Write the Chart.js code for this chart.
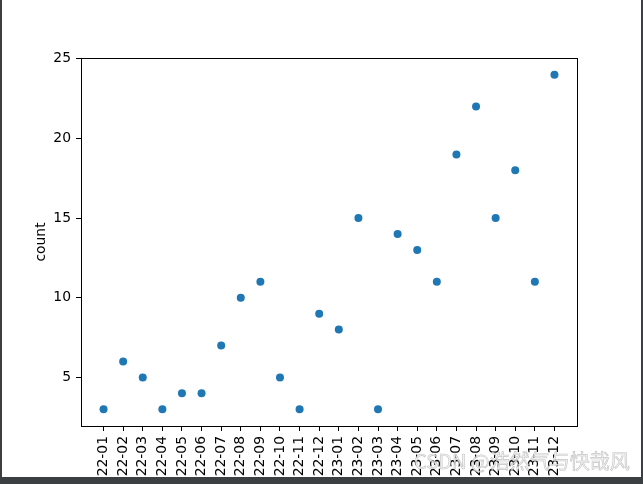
<!DOCTYPE html>
<html>
<head>
<meta charset="utf-8">
<script src="https://cdn.jsdelivr.net/npm/chart.js@4.4.0/dist/chart.umd.min.js"></script>
<style>
  html, body { margin: 0; padding: 0; background: #fff; }
  #wrap { position: relative; width: 643px; height: 484px; overflow: hidden; }
  #grafico { position: absolute; left: 0; top: 0; }
  .borda { position: absolute; background: #3c3f41; }
  #marca {
    position: absolute; left: 414px; top: 446px;
    font-family: "Noto Sans CJK SC", "DejaVu Sans", sans-serif;
    font-size: 20px; white-space: nowrap;
    color: rgba(240, 240, 240, 0.8);
    -webkit-text-stroke: 0.6px rgba(150, 150, 150, 0.55);
  }
</style>
</head>
<body>
<div id="wrap">
  <canvas id="grafico" width="643" height="484"></canvas>
  <div id="marca">CSDN @浩然气与快哉风</div>
  <div class="borda" style="left:0;top:0;width:2px;height:484px"></div>
  <div class="borda" style="left:641px;top:0;width:2px;height:484px"></div>
  <div class="borda" style="left:0;top:477px;width:643px;height:7px"></div>
</div>
<script>
// DADOS
var meses = ['2022-01', '2022-02', '2022-03', '2022-04', '2022-05', '2022-06',
    '2022-07', '2022-08', '2022-09', '2022-10', '2022-11', '2022-12',
    '2023-01', '2023-02', '2023-03', '2023-04', '2023-05', '2023-06',
    '2023-07', '2023-08', '2023-09', '2023-10', '2023-11', '2023-12'];
var contagem = [3, 6, 5, 3, 4, 4, 7, 10, 11, 5, 3, 9, 8, 15, 3, 14, 13, 11, 19, 22, 15, 18, 11, 24];
var ticksY = [5, 10, 15, 20, 25];

var fonteEixo = { family: '"DejaVu Sans", sans-serif', size: 13.9 };

// moldura completa em volta da area do grafico (estilo matplotlib)
var moldura = {
    id: 'moldura',
    afterDraw: function(chart) {
        var a = chart.chartArea;
        var ctx = chart.ctx;
        ctx.save();
        ctx.strokeStyle = '#000';
        ctx.lineWidth = 1;
        ctx.strokeRect(Math.round(a.left) + 0.5, Math.round(a.top) + 0.5,
            Math.round(a.right - a.left), Math.round(a.bottom - a.top));
        ctx.restore();
    }
};

var ctx = document.getElementById('grafico').getContext('2d');

var grafico = new Chart(ctx, {
    type: 'scatter',
    data: {
        datasets: [{
            label: 'count',
            data: contagem.map(function(v, i) { return { x: i, y: v }; }),
            backgroundColor: '#1f77b4',
            borderWidth: 0,
            pointRadius: 4,
            pointHoverRadius: 4
        }]
    },
    options: {
        responsive: false,
        animation: false,
        layout: { padding: { top: 58, right: 66, left: 0, bottom: 0 } },
        scales: {
            x: {
                type: 'linear',
                min: -1.15,
                max: 24.15,
                afterBuildTicks: function(scale) {
                    scale.ticks = meses.map(function(_, i) { return { value: i }; });
                },
                afterFit: function(scale) { scale.height = 58; },
                border: { display: false },
                grid: { display: true, drawOnChartArea: false, drawTicks: true, tickLength: 5, tickColor: '#000' },
                ticks: {
                    autoSkip: false,
                    maxRotation: 90,
                    minRotation: 90,
                    padding: 5,
                    color: '#000',
                    font: fonteEixo,
                    callback: function(v) { return meses[v]; }
                }
            },
            y: {
                min: 1.95,
                max: 25.05,
                afterBuildTicks: function(scale) {
                    scale.ticks = ticksY.map(function(v) { return { value: v }; });
                },
                afterFit: function(scale) { scale.width = 81; },
                border: { display: false },
                grid: { display: true, drawOnChartArea: false, drawTicks: true, tickLength: 5, tickColor: '#000' },
                ticks: { padding: 5, color: '#000', font: fonteEixo },
                title: {
                    display: true,
                    text: 'count',
                    color: '#000',
                    font: fonteEixo,
                    padding: { top: 33, bottom: 0 }
                }
            }
        },
        plugins: {
            legend: { display: false },
            tooltip: { enabled: false }
        }
    },
    plugins: [moldura]
});
</script>
</body>
</html>
